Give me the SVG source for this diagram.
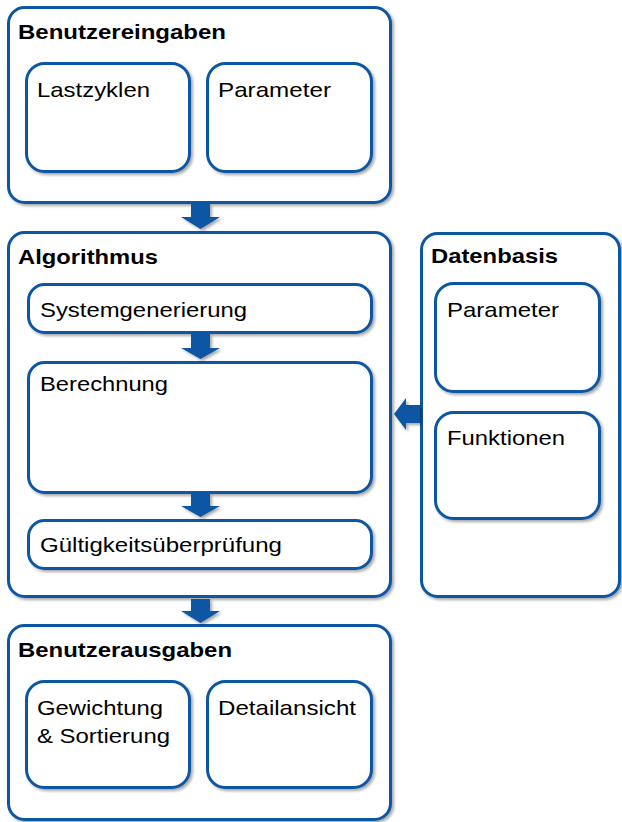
<svg xmlns="http://www.w3.org/2000/svg" width="622" height="822" viewBox="0 0 622 822">
<defs>
<filter id="sh" x="-10%" y="-10%" width="120%" height="120%">
<feGaussianBlur in="SourceAlpha" stdDeviation="1.5"/>
<feOffset dx="2" dy="2" result="b"/>
<feComponentTransfer><feFuncA type="linear" slope="0.35"/></feComponentTransfer>
<feMerge><feMergeNode/><feMergeNode in="SourceGraphic"/></feMerge>
</filter>
<style>
.box{fill:#fff;stroke:#0b57a4;stroke-width:3;filter:url(#sh)}
.h{font-family:"Liberation Sans",Arial,sans-serif;font-weight:bold;font-size:21px;fill:#000}
.t{font-family:"Liberation Sans",Arial,sans-serif;font-size:21px;fill:#000}
.ar{fill:#0b57a4;filter:url(#sh)}
</style>
</defs>
<rect width="622" height="822" fill="#fff"/>
<g id="benutzereingaben">
<rect class="box" x="8.5" y="7.5" width="382" height="195" rx="16"/>
<text class="h" x="18" y="39" textLength="208" lengthAdjust="spacingAndGlyphs">Benutzereingaben</text>
</g>
<g id="lastzyklen">
<rect class="box" x="26.5" y="63.5" width="163" height="108" rx="18"/>
<text class="t" x="37" y="97" textLength="113" lengthAdjust="spacingAndGlyphs">Lastzyklen</text>
</g>
<g id="parameter-in">
<rect class="box" x="207.5" y="63.5" width="164" height="108" rx="18"/>
<text class="t" x="218" y="97" textLength="113" lengthAdjust="spacingAndGlyphs">Parameter</text>
</g>
<g id="algorithmus">
<rect class="box" x="8.5" y="232.5" width="382" height="364" rx="16"/>
<text class="h" x="18" y="264" textLength="140" lengthAdjust="spacingAndGlyphs">Algorithmus</text>
</g>
<g id="systemgenerierung">
<rect class="box" x="28.5" y="284.5" width="343" height="48" rx="16"/>
<text class="t" x="40" y="317" textLength="207" lengthAdjust="spacingAndGlyphs">Systemgenerierung</text>
</g>
<g id="berechnung">
<rect class="box" x="28.5" y="362.5" width="343" height="130" rx="16"/>
<text class="t" x="40" y="391" textLength="128" lengthAdjust="spacingAndGlyphs">Berechnung</text>
</g>
<g id="gueltigkeit">
<rect class="box" x="28.5" y="520.5" width="343" height="48" rx="16"/>
<text class="t" x="40" y="552" textLength="242" lengthAdjust="spacingAndGlyphs">Gültigkeitsüberprüfung</text>
</g>
<g id="datenbasis">
<rect class="box" x="421.5" y="233.5" width="198" height="363" rx="16"/>
<text class="h" x="431" y="263" textLength="127" lengthAdjust="spacingAndGlyphs">Datenbasis</text>
</g>
<g id="parameter-db">
<rect class="box" x="435.5" y="283.5" width="164" height="108" rx="18"/>
<text class="t" x="447" y="317" textLength="112" lengthAdjust="spacingAndGlyphs">Parameter</text>
</g>
<g id="funktionen">
<rect class="box" x="435.5" y="412.5" width="164" height="106" rx="18"/>
<text class="t" x="447" y="445" textLength="118" lengthAdjust="spacingAndGlyphs">Funktionen</text>
</g>
<g id="benutzerausgaben">
<rect class="box" x="8.5" y="625.5" width="382" height="194" rx="16"/>
<text class="h" x="18" y="657" textLength="214" lengthAdjust="spacingAndGlyphs">Benutzerausgaben</text>
</g>
<g id="gewichtung">
<rect class="box" x="26.5" y="681.5" width="163" height="106" rx="18"/>
<text class="t" x="37" y="715" textLength="126" lengthAdjust="spacingAndGlyphs">Gewichtung</text>
<text class="t" x="37" y="743" textLength="133" lengthAdjust="spacingAndGlyphs">&amp; Sortierung</text>
</g>
<g id="detailansicht">
<rect class="box" x="207.5" y="681.5" width="164" height="106" rx="18"/>
<text class="t" x="218" y="715" textLength="138" lengthAdjust="spacingAndGlyphs">Detailansicht</text>
</g>
<g id="connectors">
<polygon class="ar" points="191,204 210,204 210,217 220,217 200.5,229 181,217 191,217"/>
<polygon class="ar" points="191,334 210,334 210,348 220,348 200.5,359 181,348 191,348"/>
<polygon class="ar" points="191,494 210,494 210,506 220,506 200.5,517 181,506 191,506"/>
<polygon class="ar" points="191,599 210,599 210,611 220,611 200.5,623 181,611 191,611"/>
<polygon class="ar" points="420,405 420,423 406,423 406,430 394,414 406,398 406,405"/>
</g>
</svg>
